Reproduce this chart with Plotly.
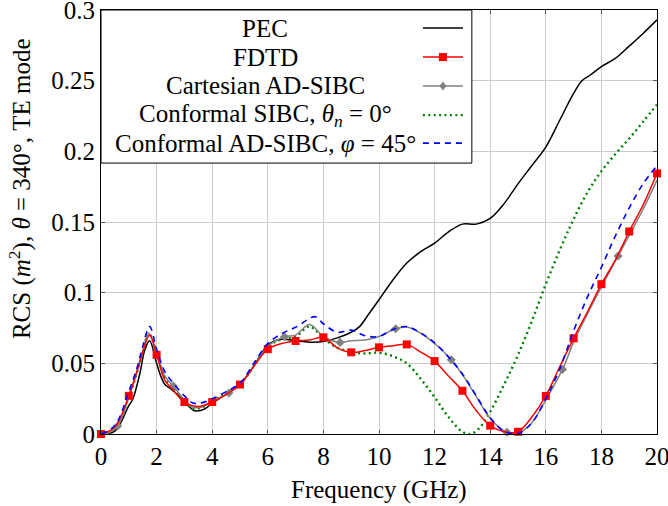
import plotly.graph_objects as go

# ---------------- data ----------------
pec_f = [0, 0.5, 1, 1.15, 1.4, 1.57, 1.75, 2, 2.17, 2.3, 2.5, 2.77, 3.07, 3.37, 3.73, 4, 4.5, 5, 5.5, 6,
         6.5, 7, 7.5, 8, 8.5, 9, 9.3, 9.6, 10, 10.5, 11, 11.5, 12, 12.5, 13, 13.5, 14, 14.5, 15, 15.5,
         16, 16.5, 17, 17.3, 17.6, 18, 18.5, 19, 19.5, 20]
pec_v = [0, 0.002, 0.02, 0.025, 0.043, 0.059, 0.066, 0.05, 0.04, 0.035, 0.032, 0.0276, 0.0217, 0.0165, 0.0177,
         0.022, 0.028, 0.035, 0.048, 0.063, 0.067, 0.066, 0.065, 0.0655, 0.068, 0.072, 0.076, 0.084, 0.095,
         0.109, 0.121, 0.129, 0.135, 0.143, 0.1485, 0.1485, 0.1525, 0.163, 0.177, 0.19, 0.203, 0.222, 0.241,
         0.25, 0.254, 0.26, 0.2657, 0.2744, 0.2834, 0.293]

fdtd_f = [0, 0.5, 1, 1.3, 1.5, 1.75, 2, 2.3, 2.6, 3, 3.5, 4, 4.5, 5, 5.5, 6, 6.5, 7, 7.5, 8, 8.5, 9, 9.5,
          10, 10.5, 11, 11.5, 12, 12.5, 13, 13.5, 14, 14.5, 15, 15.5, 16, 16.5, 17, 17.5, 18, 18.5, 19,
          19.5, 20]
fdtd_v = [0, 0.005, 0.027, 0.045, 0.058, 0.070, 0.056, 0.038, 0.031, 0.0226, 0.0195, 0.0226, 0.028, 0.035,
          0.048, 0.060, 0.064, 0.0658, 0.0665, 0.0684, 0.061, 0.0578, 0.059, 0.0613, 0.0625, 0.0634, 0.058,
          0.0516, 0.041, 0.0306, 0.0165, 0.0059, 0.0016, 0.0016, 0.012, 0.0269, 0.0476, 0.0677, 0.0865,
          0.106, 0.123, 0.1433, 0.162, 0.1844]
fdtd_marks = [0, 1, 2, 3, 4, 5, 6, 7, 8, 9, 10, 11, 12, 13, 14, 15, 16, 17, 18, 19, 20]

cart_f = [0, 0.3, 0.6, 1, 1.3, 1.5, 1.72, 2, 2.3, 2.6, 3, 3.3, 3.6, 4, 4.6, 5, 5.5, 6, 6.6, 7, 7.5, 8, 8.6,
          9, 9.5, 10, 10.6, 11, 11.5, 12, 12.6, 13, 13.5, 14, 14.6, 15, 15.5, 16, 16.6, 17, 17.5, 18, 18.6,
          19, 19.5, 20]
cart_v = [0, 0.001, 0.0057, 0.026, 0.044, 0.058, 0.0715, 0.058, 0.041, 0.034, 0.024, 0.019, 0.019, 0.023,
          0.029, 0.035, 0.048, 0.062, 0.0688, 0.070, 0.0775, 0.069, 0.0648, 0.066, 0.0665, 0.069, 0.0745,
          0.0757, 0.0712, 0.064, 0.0525, 0.042, 0.0265, 0.011, 0.0012, 0.0005, 0.008, 0.024, 0.0457, 0.065,
          0.085, 0.104, 0.126, 0.1405, 0.159, 0.1796]
cart_marks = [0.6, 2.6, 4.6, 6.6, 8.6, 10.6, 12.6, 14.6, 16.6, 18.6]

sibc_f = [0, 0.5, 1, 1.3, 1.5, 1.72, 2, 2.3, 2.6, 3, 3.3, 3.6, 4, 4.5, 5, 5.5, 6, 6.5, 7, 7.5, 8, 8.4, 9,
          9.5, 10, 10.5, 11, 11.5, 12, 12.5, 13, 13.3, 13.6, 14, 14.5, 15, 15.5, 16, 16.5, 17, 17.5, 18,
          18.5, 19, 19.5, 20]
sibc_v = [0, 0.004, 0.026, 0.044, 0.058, 0.071, 0.058, 0.04, 0.033, 0.023, 0.018, 0.0185, 0.023, 0.029,
          0.035, 0.048, 0.062, 0.067, 0.069, 0.076, 0.068, 0.062, 0.058, 0.057, 0.0575, 0.055, 0.05, 0.039,
          0.026, 0.012, 0.0016, 0.0, 0.004, 0.0158, 0.035, 0.056, 0.08, 0.106, 0.13, 0.152, 0.171, 0.186,
          0.198, 0.209, 0.221, 0.233]

adsibc_f = [0, 0.5, 1, 1.3, 1.5, 1.75, 2, 2.3, 2.6, 3, 3.3, 3.6, 4, 4.5, 5, 5.5, 6, 6.5, 7, 7.7, 8, 8.5, 9,
            9.5, 10, 10.5, 11, 11.5, 12, 12.5, 13, 13.5, 14, 14.5, 15, 15.5, 16, 16.5, 17, 17.5, 18, 18.5,
            19, 19.5, 20]
adsibc_v = [0, 0.006, 0.03, 0.047, 0.062, 0.076, 0.06, 0.044, 0.036, 0.027, 0.022, 0.022, 0.025, 0.03,
            0.036, 0.05, 0.064, 0.071, 0.0755, 0.083, 0.078, 0.072, 0.0735, 0.0695, 0.069, 0.074, 0.076,
            0.0715, 0.0645, 0.0545, 0.0425, 0.027, 0.0115, 0.002, 0.0003, 0.008, 0.025, 0.046, 0.073, 0.097,
            0.118, 0.14, 0.16, 0.177, 0.19]

x_ticks = [0, 2, 4, 6, 8, 10, 12, 14, 16, 18, 20]
y_ticks = [0, 0.05, 0.1, 0.15, 0.2, 0.25, 0.3]
y_tick_text = ["0", "0.05", "0.1", "0.15", "0.2", "0.25", "0.3"]

legend_labels = ["PEC", "FDTD", "Cartesian AD-SIBC",
                 "Conformal SIBC, <i>θ</i><sub><i>n</i></sub> = 0°",
                 "Conformal AD-SIBC, <i>φ</i> = 45°"]

# ---------------- figure ----------------
FONT = "'Liberation Serif', 'DejaVu Serif', serif"
FS = 25
RED, GRAY, GREEN, BLUE = "#ff0000", "#808080", "#008000", "#0000ff"

fd = dict(zip(fdtd_f, fdtd_v))
cd = dict(zip(cart_f, cart_v))

fig = go.Figure()
fig.add_trace(go.Scatter(x=pec_f, y=pec_v, mode="lines", line=dict(color="black", width=1.5, shape="spline"),
                         showlegend=False))
fig.add_trace(go.Scatter(x=sibc_f, y=sibc_v, mode="lines",
                         line=dict(color=GREEN, width=2.4, dash="2px,3.4px", shape="spline"), showlegend=False))
fig.add_trace(go.Scatter(x=cart_f, y=cart_v, mode="lines", line=dict(color=GRAY, width=1.5, shape="spline"),
                         showlegend=False))
fig.add_trace(go.Scatter(x=cart_marks, y=[cd[f] for f in cart_marks], mode="markers",
                         marker=dict(symbol="diamond", size=7, color=GRAY), cliponaxis=False, showlegend=False))
fig.add_trace(go.Scatter(x=fdtd_f, y=fdtd_v, mode="lines", line=dict(color=RED, width=1.5, shape="spline"),
                         showlegend=False))
fig.add_trace(go.Scatter(x=fdtd_marks, y=[fd[f] for f in fdtd_marks], mode="markers",
                         marker=dict(symbol="square", size=8, color=RED), cliponaxis=False, showlegend=False))
fig.add_trace(go.Scatter(x=adsibc_f, y=adsibc_v, mode="lines",
                         line=dict(color=BLUE, width=1.6, dash="6px,5px", shape="spline"), showlegend=False))

axis_common = dict(showline=True, linecolor="black", linewidth=1, mirror="ticks", ticks="inside",
                   ticklen=4, tickcolor="#555555", showgrid=True, gridcolor="#cccccc", gridwidth=1,
                   zeroline=False, ticklabeloverflow="allow", automargin=False,
                   tickfont=dict(family=FONT, size=FS, color="black"))
fig.update_xaxes(range=[0, 20], tickvals=x_ticks, **axis_common)
fig.update_yaxes(range=[0, 0.3], tickvals=y_ticks, ticktext=y_tick_text, **axis_common)

# manual legend (text left, sample right)
shapes = [dict(type="rect", xref="paper", yref="paper", x0=0, x1=0.667, y0=0.639, y1=1,
               line=dict(color="black", width=1), fillcolor="white", layer="above")]
rows = [0.9575, 0.889, 0.821, 0.752, 0.686]
styles = [dict(color="black", width=1.5), dict(color=RED, width=1.5), dict(color=GRAY, width=1.5),
          dict(color=GREEN, width=2.4, dash="2px,3.4px"), dict(color=BLUE, width=1.6, dash="6px,5px")]
annotations = []
for lab, ry, st in zip(legend_labels, rows, styles):
    annotations.append(dict(text=lab, xref="paper", yref="paper", x=0.295, y=ry, xanchor="center",
                            yanchor="middle", showarrow=False, font=dict(family=FONT, size=FS, color="black")))
    shapes.append(dict(type="line", xref="paper", yref="paper", x0=0.579, x1=0.651, y0=ry, y1=ry,
                       line=st, layer="above"))
shapes.append(dict(type="rect", xref="paper", yref="paper", xsizemode="pixel", ysizemode="pixel",
                   xanchor=0.615, yanchor=rows[1], x0=-4, x1=4, y0=-4, y1=4,
                   fillcolor=RED, line=dict(width=0), layer="above"))
shapes.append(dict(type="path", xref="paper", yref="paper", xsizemode="pixel", ysizemode="pixel",
                   xanchor=0.615, yanchor=rows[2], path="M0,4.5 L3.5,0 L0,-4.5 L-3.5,0 Z",
                   fillcolor=GRAY, line=dict(width=0), layer="above"))

annotations.append(dict(text="Frequency (GHz)", xref="paper", yref="paper", x=0.5, y=-0.132,
                        xanchor="center", yanchor="middle", showarrow=False,
                        font=dict(family=FONT, size=FS, color="black")))
annotations.append(dict(text="RCS (<i>m</i><sup>2</sup>), <i>θ</i> = 340°, TE mode", xref="paper",
                        yref="paper", x=-0.1457, y=0.58, xanchor="center", yanchor="middle",
                        textangle=-90, showarrow=False, font=dict(family=FONT, size=FS, color="black")))

fig.update_layout(width=668, height=506, autosize=False,
                  margin=dict(l=101, r=11, t=10, b=72, autoexpand=False),
                  plot_bgcolor="white", paper_bgcolor="white",
                  shapes=shapes, annotations=annotations, showlegend=False,
                  font=dict(family=FONT, size=FS, color="black"))

fig.write_html("out.html", config={"displayModeBar": False},
               post_script="document.body.style.margin='0';document.body.style.padding='0';")
